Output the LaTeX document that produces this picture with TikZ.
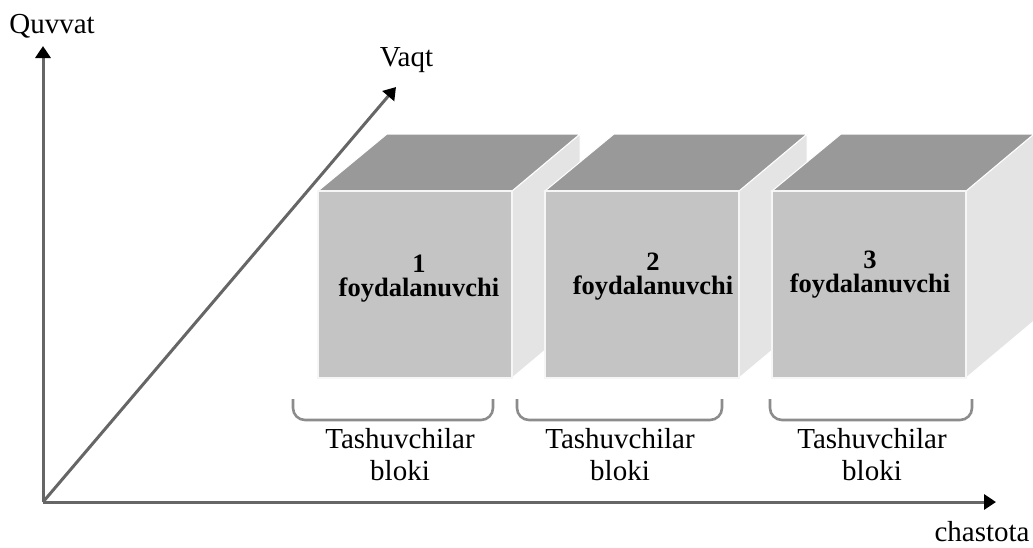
\documentclass[tikz,border=0pt]{standalone}
\usepackage{fontspec}
\setmainfont{Liberation Serif}
\usetikzlibrary{arrows.meta}
\definecolor{topc}{HTML}{999999}
\definecolor{frontc}{HTML}{C4C4C4}
\definecolor{sidec}{HTML}{E4E4E4}
\definecolor{axisc}{HTML}{666666}
\definecolor{bracec}{HTML}{8C8C8C}
\begin{document}
\begin{tikzpicture}[x=1pt,y=-1pt,
  axisline/.style={draw=axisc, line width=3pt, -{Triangle[width=15pt,length=12pt,color=black]}},
  lbl/.style={font=\fontsize{29}{32}\selectfont, inner sep=0pt},
  cubetxt/.style={font=\bfseries\fontsize{26.5}{24}\selectfont, align=center, inner sep=0pt},
  topface/.style={fill=topc, draw=white, line width=1pt},
  sideface/.style={fill=sidec, draw=white, line width=1pt},
  frontface/.style={fill=frontc, draw=white!85!frontc, line width=1.5pt},
  bracket/.style={draw=bracec, line width=2.6pt, rounded corners=12pt}]
\useasboundingbox (0,0) rectangle (1033,547);

% axes
\coordinate (O) at (43,502);
\coordinate (Ytip) at (43,46);
\coordinate (Xtip) at (996,502);
\coordinate (Ttip) at (396,87);
\draw[axisline] (O) -- (Ytip);
\draw[axisline] (O) -- (Xtip);
\draw[axisline] (O) -- (Ttip);

\node[lbl, anchor=base] (quvvat) at (52,33) {Quvvat};
\node[lbl, anchor=base] (vaqt) at (406.5,66) {Vaqt};
\node[lbl, anchor=base] (chastota) at (982,541) {chastota};

% cubes
\foreach \x/\n/\tx/\ty in {318/1/419/279, 545/2/653/276.5, 772/3/870/275} {
  \path[sideface] (\x+194,191) -- (\x+262,134) -- (\x+262,321) -- (\x+194,378) -- cycle;
  \path[topface] (\x,191) -- (\x+69,134) -- (\x+262,134) -- (\x+194,191) -- cycle;
  \path[frontface] (\x,191) rectangle (\x+194,378);
  \node[cubetxt] (user\n) at (\tx,\ty) {\n\\foydalanuvchi};
}

% brackets
\foreach \a/\b in {293/493, 517/722, 770/972} {
  \draw[bracket] (\a,399) -- (\a,420) -- (\b,420) -- (\b,399);
}

% block labels
\node[lbl, align=center] (blk1) at (400,455) {Tashuvchilar\\bloki};
\node[lbl, align=center] (blk2) at (620,455) {Tashuvchilar\\bloki};
\node[lbl, align=center] (blk3) at (872,455) {Tashuvchilar\\bloki};
\end{tikzpicture}
\end{document}
